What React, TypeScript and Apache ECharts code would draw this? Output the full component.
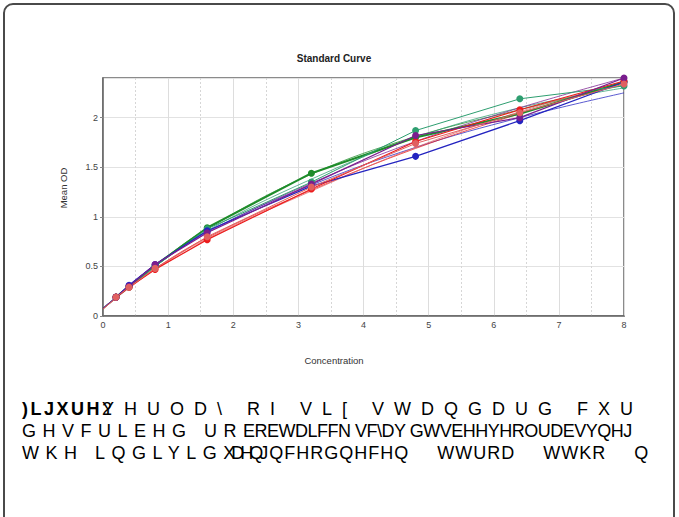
import React, { useEffect, useRef } from "react";
import * as echarts from "echarts";

// Concentrations of the standards
const conc = [0.2, 0.4, 0.8, 1.6, 3.2, 4.8, 6.4, 8];
// x positions of the fitted curves (start at 0)
const fitConc = [0, 0.2, 0.4, 0.8, 1.6, 3.2, 4.8, 6.4, 8];

// Measured mean OD for six standard curves
const greenOD = [0.19, 0.3, 0.51, 0.89, 1.44, 1.8, 2.04, 2.36];
const tealOD = [0.19, 0.29, 0.5, 0.88, 1.35, 1.87, 2.19, 2.32];
const blueOD = [0.19, 0.31, 0.52, 0.86, 1.31, 1.61, 1.97, 2.36];
const redOD = [0.19, 0.29, 0.47, 0.77, 1.28, 1.76, 2.08, 2.37];
const purpleOD = [0.19, 0.3, 0.52, 0.84, 1.33, 1.82, 2.0, 2.4];
const salmonOD = [0.19, 0.29, 0.48, 0.8, 1.3, 1.74, 2.05, 2.34];

// Fitted curves
const greenFit = [0.08, 0.19, 0.3, 0.51, 0.88, 1.43, 1.81, 2.08, 2.33];
const tealFit = [0.07, 0.18, 0.29, 0.5, 0.86, 1.38, 1.8, 2.1, 2.3];
const blueFit = [0.08, 0.19, 0.31, 0.51, 0.85, 1.32, 1.7, 2.0, 2.25];
const redFit = [0.07, 0.18, 0.29, 0.48, 0.79, 1.27, 1.69, 2.04, 2.35];
const purpleFit = [0.08, 0.19, 0.3, 0.51, 0.84, 1.34, 1.76, 2.1, 2.4];
const salmonFit = [0.07, 0.18, 0.28, 0.47, 0.78, 1.26, 1.7, 2.06, 2.36];

const curves = [
  { name: "S1", color: "#1e8c2a", od: greenOD, fit: greenFit, w: 2 },
  { name: "S2", color: "#2e9e70", od: tealOD, fit: tealFit, w: 1 },
  { name: "S3", color: "#2424c0", od: blueOD, fit: blueFit, w: 1.2 },
  { name: "S4", color: "#ec1c1c", od: redOD, fit: redFit, w: 1.2 },
  { name: "S5", color: "#7a1d8e", od: purpleOD, fit: purpleFit, w: 1.2 },
  { name: "S6", color: "#e06060", od: salmonOD, fit: salmonFit, w: 1 },
];

const FONT = "'Liberation Sans', Arial, sans-serif";

export default function App() {
  const ref = useRef<HTMLDivElement>(null);

  useEffect(() => {
    document.body.style.margin = "0";
    if (!ref.current) return;
    const chart = echarts.init(ref.current, null, { renderer: "svg" });

    const fitSeries = curves.map((c) => ({
      name: c.name + " fit",
      type: "line",
      data: fitConc.map((x, i) => [x, c.fit[i]]),
      smooth: 0.4,
      showSymbol: false,
      symbol: "none",
      lineStyle: { color: c.color, width: 1, opacity: 0.75 },
      z: 2,
    }));
    const pointSeries = curves.map((c) => ({
      name: c.name,
      type: "line",
      data: conc.map((x, i) => [x, c.od[i]]),
      symbol: "circle",
      symbolSize: 7,
      itemStyle: { color: c.color },
      lineStyle: { color: c.color, width: c.w },
      z: 3,
    }));

    chart.setOption({
      animation: false,
      backgroundColor: "transparent",
      grid: {
        left: 103,
        right: 55,
        top: 78,
        bottom: 84,
        show: true,
        borderColor: "#666",
        borderWidth: 1.5,
      },
      graphic: [
        {
          type: "text",
          x: 334,
          y: 58,
          style: {
            text: "Standard Curve",
            font: `bold 10px ${FONT}`,
            fill: "#222",
            align: "center",
            verticalAlign: "middle",
          },
        },
        {
          type: "text",
          x: 334,
          y: 360,
          style: {
            text: "Concentration",
            font: `9.5px ${FONT}`,
            fill: "#333",
            align: "center",
            verticalAlign: "middle",
          },
        },
        {
          type: "text",
          x: 63,
          y: 188,
          rotation: Math.PI / 2,
          style: {
            text: "Mean OD",
            font: `9.5px ${FONT}`,
            fill: "#333",
            align: "center",
            verticalAlign: "middle",
          },
        },
      ],
      xAxis: {
        type: "value",
        min: 0,
        max: 8,
        interval: 1,
        axisLine: { show: true, lineStyle: { color: "#666", width: 1.5 } },
        axisTick: { show: false },
        axisLabel: { color: "#444", fontSize: 9, fontFamily: FONT, margin: 4 },
        splitLine: { show: true, lineStyle: { color: "#dddddd", width: 1 } },
        minorTick: { show: false, splitNumber: 2 },
        minorSplitLine: {
          show: true,
          lineStyle: { color: "#d6d6d6", width: 1, type: [2, 2] },
        },
      },
      yAxis: {
        type: "value",
        min: 0,
        max: 2.4,
        interval: 0.5,
        axisLine: { show: true, lineStyle: { color: "#666", width: 1.5 } },
        axisTick: { show: true, length: 3, lineStyle: { color: "#888" } },
        axisLabel: {
          color: "#444",
          fontSize: 9,
          fontFamily: FONT,
          margin: 5,
          showMaxLabel: false,
        },
        splitLine: { show: true, lineStyle: { color: "#e2e2e2", width: 1 } },
      },
      series: [...fitSeries, ...pointSeries],
    });

    return () => chart.dispose();
  }, []);

  const lineBase: React.CSSProperties = {
    position: "absolute",
    left: 22,
    whiteSpace: "nowrap",
    fontFamily: FONT,
    fontSize: 18,
    color: "#000",
    lineHeight: "20px",
  };

  return (
    <div
      style={{
        position: "relative",
        width: 679,
        height: 517,
        overflow: "hidden",
        background: "#fff",
      }}
    >
      <div
        style={{
          position: "absolute",
          left: 3,
          top: 3,
          width: 672,
          height: 540,
          border: "2px solid #4a4a4a",
          borderRadius: 10,
          boxSizing: "border-box",
        }}
      />
      <div
        ref={ref}
        style={{ position: "absolute", left: 0, top: 0, width: 679, height: 400 }}
      />
      <div
        style={{
          position: "absolute",
          left: 0,
          top: 0,
          width: 675,
          height: 517,
          overflow: "hidden",
        }}
      >
        <div style={{ ...lineBase, top: 399 }}>
          <span style={{ fontWeight: "bold", letterSpacing: 2.5 }}>)LJXUH</span>
          <span style={{ letterSpacing: -12 }}>2</span>
          <span style={{ letterSpacing: 10 }}>{"YHUOD\\ RI VL[ VWDQGDUG FXU"}</span>
        </div>
        <div style={{ ...lineBase, top: 421 }}>
          <span style={{ letterSpacing: 6.5 }}>GHVFULEHG UR</span>
          <span style={{ letterSpacing: -0.5 }}>{"EREWDLFFN VF\\DY GWVEHHYHROUDEVYQHJ"}</span>
        </div>
        <div style={{ ...lineBase, top: 443 }}>
          <span style={{ letterSpacing: 6.5 }}>WKH LQGLYLG</span>
          <span style={{ letterSpacing: -4 }}>XDHQ</span>
          <span style={{ letterSpacing: 1, wordSpacing: 22 }}>{"JQFHRGQHFHQ WWURD WWKR Q"}</span>
        </div>
      </div>
    </div>
  );
}
